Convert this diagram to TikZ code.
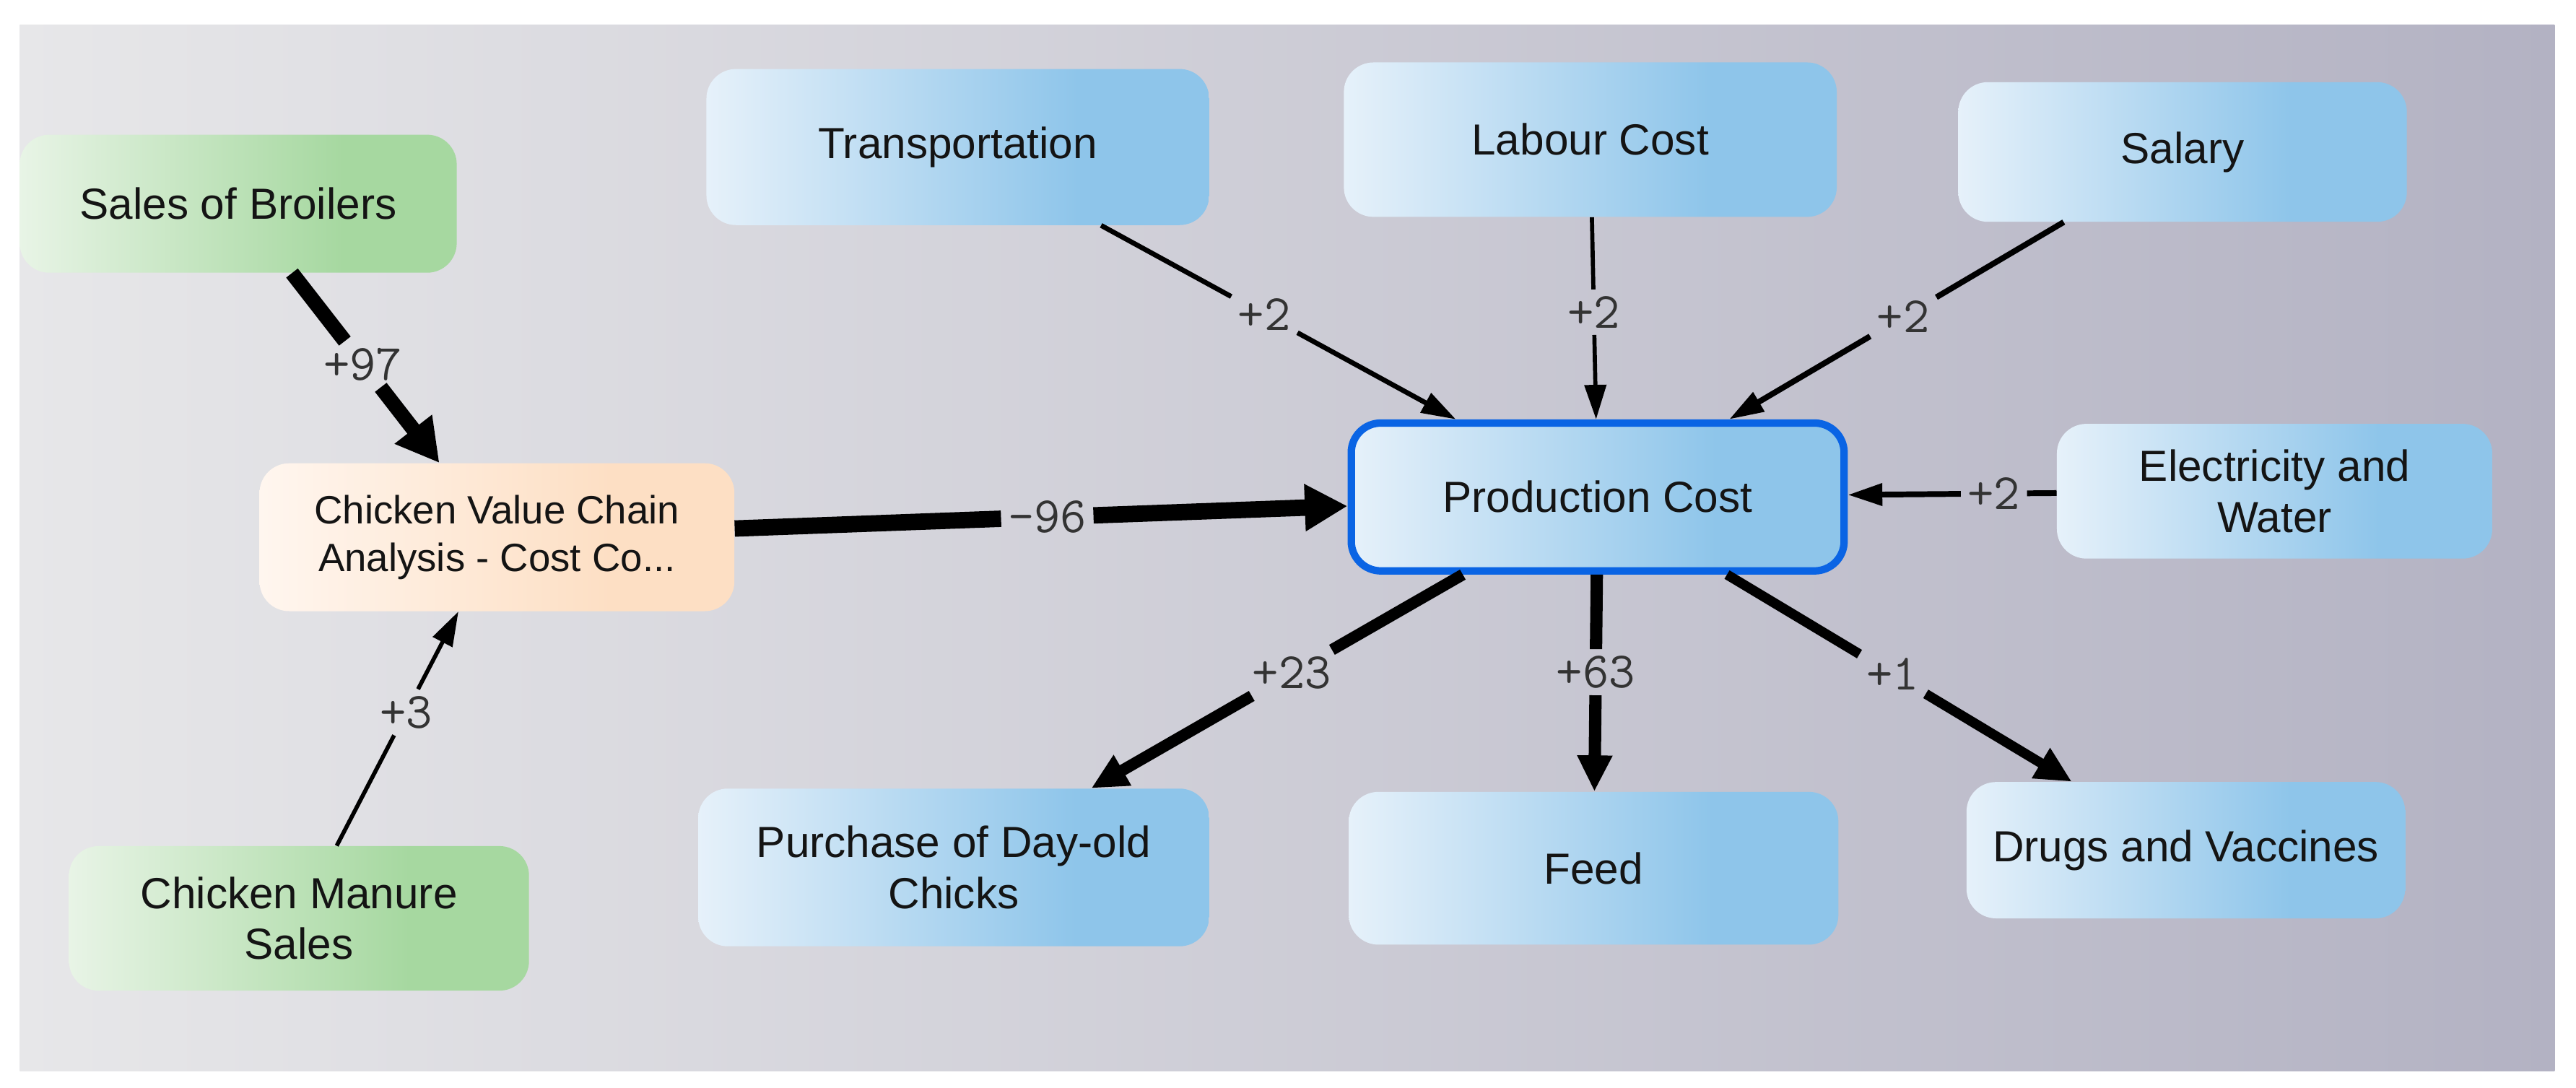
\documentclass[tikz,border=0pt]{standalone}
\usepackage{fontspec}
\setmainfont{Liberation Sans}
\usetikzlibrary{arrows.meta}
\definecolor{bgL}{HTML}{E7E7E9}
\definecolor{bgM}{HTML}{D1D1D8}
\definecolor{bgR}{HTML}{B3B2C3}
\definecolor{blueL}{HTML}{E6F1FA}
\definecolor{blueR}{HTML}{8EC5EA}
\definecolor{greenL}{HTML}{E8F4E6}
\definecolor{greenR}{HTML}{A6D8A0}
\definecolor{peachL}{HTML}{FFF6EF}
\definecolor{peachR}{HTML}{FDDFC4}
\definecolor{pcborder}{HTML}{0A64E4}
\definecolor{lblcol}{HTML}{333333}
\pgfdeclarehorizontalshading{blueshade}{100bp}{color(0bp)=(blueL); color(25bp)=(blueL); color(62bp)=(blueR); color(100bp)=(blueR)}
\pgfdeclarehorizontalshading{greenshade}{100bp}{color(0bp)=(greenL); color(25bp)=(greenL); color(62bp)=(greenR); color(100bp)=(greenR)}
\pgfdeclarehorizontalshading{peachshade}{100bp}{color(0bp)=(peachL); color(25bp)=(peachL); color(62bp)=(peachR); color(100bp)=(peachR)}
\begin{document}
\begin{tikzpicture}[x=1pt,y=-1pt,
  box/.style={rounded corners=18pt, align=center, inner sep=0pt,
    font=\fontsize{26.5}{31}\selectfont, text=black!92},
  bluebox/.style={box, shade, shading=blueshade},
  greenbox/.style={box, shade, shading=greenshade},
  peachbox/.style={box, shade, shading=peachshade},
  lbl/.style={font=\ttfamily\fontsize{31}{31}\selectfont, text=lblcol, inner sep=4pt},
  conn/.style={line width=#1pt, draw=black},
  tipA/.style={-{Triangle[length=26pt,width=27pt]}},
  tipB/.style={-{Triangle[length=22pt,width=20pt]}},
  tipC/.style={-{Triangle[length=21pt,width=13pt]}}
]
\useasboundingbox (0,0) rectangle (1568,662);
\shade[left color=bgL, middle color=bgM, right color=bgR] (12,15) rectangle (1555,652);

% nodes
\node[greenbox, minimum width=266pt, minimum height=84pt] (sob) at (145,124) {Sales of Broilers};
\node[peachbox, minimum width=289pt, minimum height=90pt, font=\fontsize{24}{29}\selectfont] (cvca) at (302.5,327) {Chicken Value Chain\\Analysis - Cost Co...};
\node[greenbox, minimum width=280pt, minimum height=88pt] (cms) at (182,559) {Chicken Manure\\Sales};
\node[bluebox, minimum width=306pt, minimum height=95pt] (tr) at (583,89.5) {Transportation};
\node[bluebox, minimum width=300pt, minimum height=94pt] (lab) at (968,85) {Labour Cost};
\node[bluebox, minimum width=273pt, minimum height=85pt] (sal) at (1328.5,92.5) {Salary};
\node[bluebox, minimum width=300pt, minimum height=90pt, draw=pcborder, line width=4.5pt] (pc) at (972.5,302.5) {Production Cost};
\node[bluebox, minimum width=265pt, minimum height=82pt] (elec) at (1384.5,299) {Electricity and\\Water};
\node[bluebox, minimum width=311pt, minimum height=96pt] (pur) at (580.5,528) {Purchase of Day-old\\Chicks};
\node[bluebox, minimum width=298pt, minimum height=93pt] (feed) at (970,528.5) {Feed};
\node[bluebox, minimum width=267pt, minimum height=83pt] (drugs) at (1330.5,517.5) {Drugs and Vaccines};

% labels on connectors
\path (sob) -- node[lbl, pos=0.48] (l1) {+97} (cvca);
\path (cms) -- node[lbl, pos=0.57] (l2) {+3} (cvca);
\path (cvca) -- node[lbl, pos=0.51] (l3) {-96} (pc);
\path (tr) -- node[lbl, pos=0.46] (l4) {+2} (pc);
\path (lab) -- node[lbl, pos=0.47] (l5) {+2} (pc);
\path (sal) -- node[lbl, pos=0.48] (l6) {+2} (pc);
\path (elec) -- node[lbl, pos=0.3] (l7) {+2} (pc);
\path (pc) -- node[lbl, pos=0.46] (l8) {+23} (pur);
\path (pc) -- node[lbl, pos=0.45] (l9) {+63} (feed);
\path (pc) -- node[lbl, pos=0.48] (l10) {+1} (drugs);

% connectors
\draw[conn=9] (sob) -- (l1);
\draw[conn=9, tipA] (l1) -- (cvca);
\draw[conn=2.5] (cms) -- (l2);
\draw[conn=2.5, tipC] (l2) -- (cvca);
\draw[conn=10] (cvca) -- (l3);
\draw[conn=10, tipA] (l3) -- (pc);
\draw[conn=3] (tr) -- (l4);
\draw[conn=3, tipC] (l4) -- (pc);
\draw[conn=2.5] (lab) -- (l5);
\draw[conn=2.5, tipC] (l5) -- (pc);
\draw[conn=3.5] (sal) -- (l6);
\draw[conn=3.5, tipC] (l6) -- (pc);
\draw[conn=3.5] (elec) -- (l7);
\draw[conn=3.5, tipC] (l7) -- (pc);
\draw[conn=7] (pc) -- (l8);
\draw[conn=7, tipB] (l8) -- (pur);
\draw[conn=7.5] (pc) -- (l9);
\draw[conn=7.5, tipB] (l9) -- (feed);
\draw[conn=6] (pc) -- (l10);
\draw[conn=6, tipB] (l10) -- (drugs);
\end{tikzpicture}
\end{document}
